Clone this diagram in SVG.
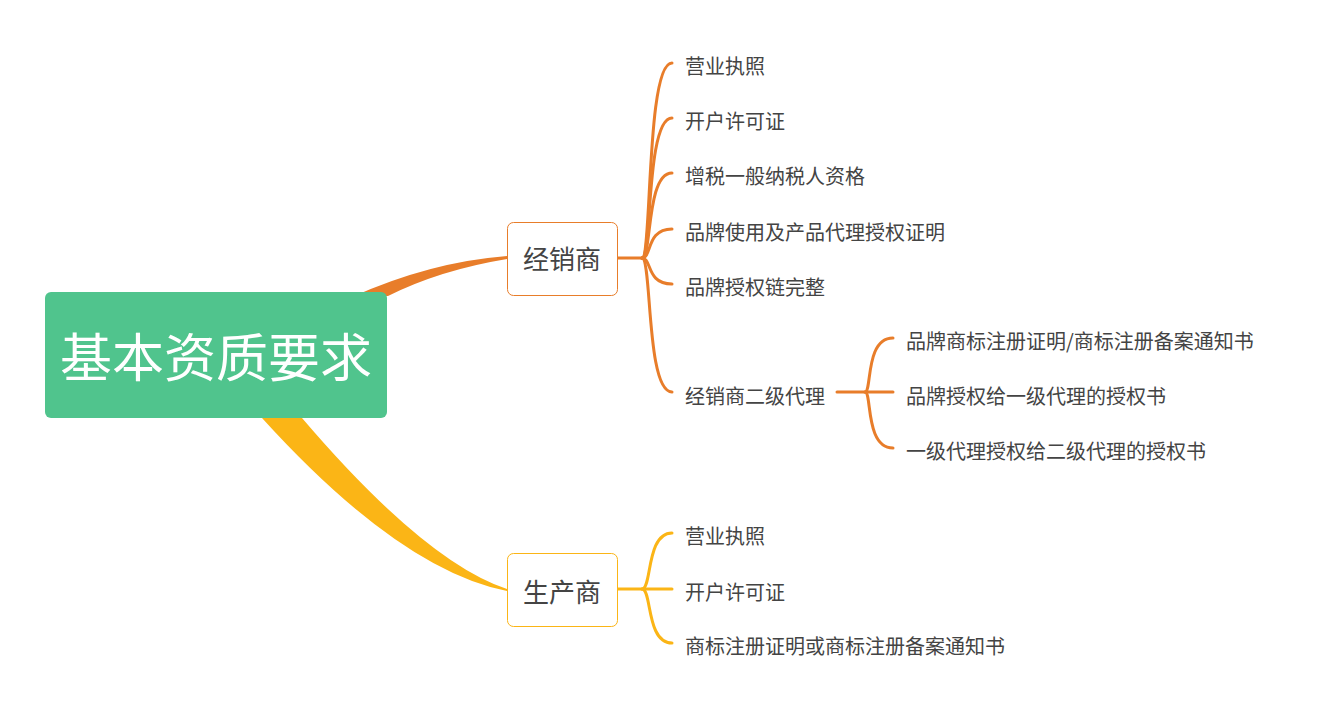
<svg xmlns="http://www.w3.org/2000/svg" width="1322" height="714" viewBox="0 0 1322 714">
<style>
.t{font-family:"Noto Sans CJK SC","Liberation Sans",sans-serif;font-size:20px;fill:#444}
.o{fill:none;stroke:#E87D2A;stroke-width:3;stroke-linecap:round}
.y{fill:none;stroke:#FBB516;stroke-width:3;stroke-linecap:round}
</style>
<rect width="1322" height="714" fill="#fff"/>
<g id="connectors">
<path d="M352 297 Q430 262 507 256 L507 259 Q440 270 388 296 Z" fill="#E87D2A"/>
<path d="M262 418 Q400 570 507 591 L507 589 Q425 562 302 418 Z" fill="#FBB516"/>
<path class="o" d="M617 258 H642"/>
<path class="o" d="M642 258 C652 258 646 63 672 63"/>
<path class="o" d="M642 258 C652 258 646 118 672 118"/>
<path class="o" d="M642 258 C652 258 646 173 672 173"/>
<path class="o" d="M642 258 C652 258 646 229 672 229"/>
<path class="o" d="M642 258 C652 258 646 284 672 284"/>
<path class="o" d="M642 258 C652 258 646 392 672 392"/>
<path class="o" d="M837 392 H893"/>
<path class="o" d="M865 392 C872 392 865 338 893 338"/>
<path class="o" d="M865 392 C872 392 865 448 893 448"/>
<path class="y" d="M617 589 H672"/>
<path class="y" d="M642 589 C652 589 646 533 672 533"/>
<path class="y" d="M642 589 C652 589 646 643 672 643"/>
</g>
<g id="root">
<rect x="45" y="292" width="342" height="126" rx="6" fill="#50C48D"/>
<text x="216" y="377" text-anchor="middle" style="font-family:'Noto Sans CJK SC','Liberation Sans',sans-serif;font-size:52px;fill:#fff">基本资质要求</text>
</g>
<g id="n-jxs">
<rect x="507.5" y="222.5" width="110" height="73" rx="6" fill="#fff" stroke="#E87D2A"/>
<text x="562" y="269" text-anchor="middle" class="t" style="font-size:26px">经销商</text>
</g>
<g id="n-scs">
<rect x="507.5" y="553.5" width="110" height="73" rx="6" fill="#fff" stroke="#FBB516"/>
<text x="562" y="602" text-anchor="middle" class="t" style="font-size:26px">生产商</text>
</g>
<g id="j1"><text class="t" x="685" y="74">营业执照</text></g>
<g id="j2"><text class="t" x="685" y="129">开户许可证</text></g>
<g id="j3"><text class="t" x="685" y="184">增税一般纳税人资格</text></g>
<g id="j4"><text class="t" x="685" y="240">品牌使用及产品代理授权证明</text></g>
<g id="j5"><text class="t" x="685" y="295">品牌授权链完整</text></g>
<g id="j6"><text class="t" x="685" y="404">经销商二级代理</text></g>
<g id="k1"><text class="t" x="906" y="349">品牌商标注册证明/商标注册备案通知书</text></g>
<g id="k2"><text class="t" x="906" y="404">品牌授权给一级代理的授权书</text></g>
<g id="k3"><text class="t" x="906" y="459">一级代理授权给二级代理的授权书</text></g>
<g id="s1"><text class="t" x="685" y="544">营业执照</text></g>
<g id="s2"><text class="t" x="685" y="600">开户许可证</text></g>
<g id="s3"><text class="t" x="685" y="654">商标注册证明或商标注册备案通知书</text></g>
</svg>
